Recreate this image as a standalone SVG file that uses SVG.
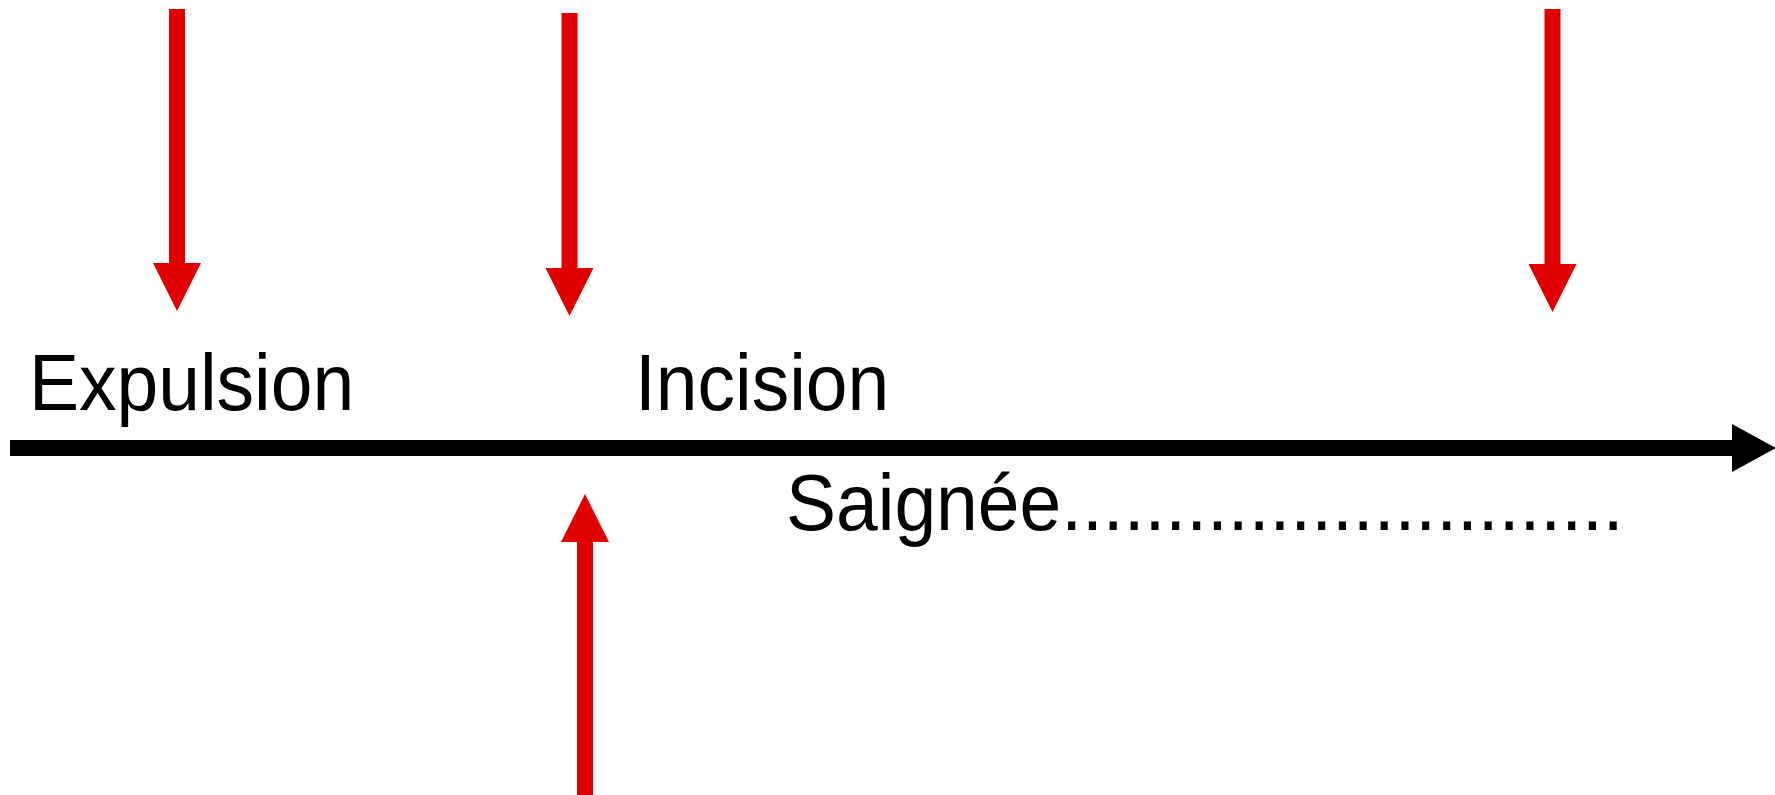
<svg xmlns="http://www.w3.org/2000/svg" width="1775" height="795" viewBox="0 0 1775 795">
  <style>
    .lbl { font-family: "Liberation Sans", Arial, Helvetica, sans-serif; font-size: 75px; fill: #000; }
    .red { stroke: #e00000; stroke-width: 16; fill: none; }
    .axis { stroke: #000; stroke-width: 16; fill: none; }
  </style>
  <defs>
    <marker id="redHead" markerUnits="userSpaceOnUse" viewBox="0 0 48 48" markerWidth="48" markerHeight="48" refX="0" refY="24" orient="auto">
      <path d="M0,0 L48,24 L0,48 Z" fill="#e00000"/>
    </marker>
    <marker id="blackHead" markerUnits="userSpaceOnUse" viewBox="0 0 44 48" markerWidth="44" markerHeight="48" refX="0" refY="24" orient="auto">
      <path d="M0,0 L44,24 L0,48 Z" fill="#000"/>
    </marker>
  </defs>
  <rect width="1775" height="795" fill="#fff"/>
  <g id="connectors">
    <line id="timeline" class="axis" x1="10" y1="448" x2="1732" y2="448" marker-end="url(#blackHead)"/>
    <line id="arrow-expulsion" class="red" x1="177" y1="9" x2="177" y2="263" marker-end="url(#redHead)"/>
    <line id="arrow-2" class="red" x1="569.5" y1="13" x2="569.5" y2="268" marker-end="url(#redHead)"/>
    <line id="arrow-3" class="red" x1="1552.5" y1="9" x2="1552.5" y2="264" marker-end="url(#redHead)"/>
    <line id="arrow-up" class="red" x1="585" y1="795" x2="585" y2="542" marker-end="url(#redHead)"/>
  </g>
  <g id="node-expulsion">
    <text class="lbl" transform="translate(29,410) scale(1,1.066)">Expulsion</text>
  </g>
  <g id="node-incision">
    <text class="lbl" transform="translate(635,410) scale(1,1.066)">Incision</text>
  </g>
  <g id="node-saignee">
    <text class="lbl" transform="translate(786,530) scale(1,1.066)">Saignée...........................</text>
  </g>
</svg>
